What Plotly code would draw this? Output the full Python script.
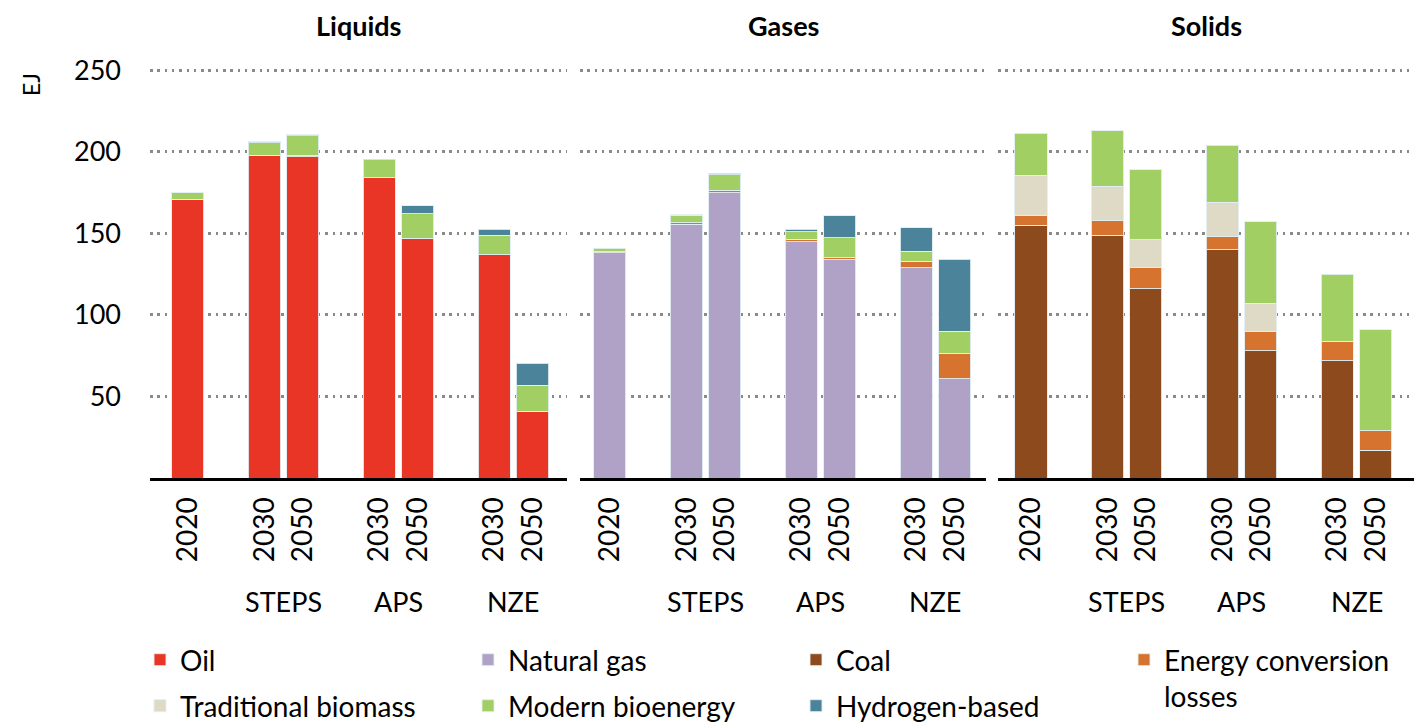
import plotly.graph_objects as go

# ---------------- data ----------------
panels = ["Liquids", "Gases", "Solids"]
years = ["2020", "2030", "2050", "2030", "2050", "2030", "2050"]
positions = [0, 2, 3, 5, 6, 8, 9]
scenarios = ["STEPS", "APS", "NZE"]
scenario_pos = [2.5, 5.5, 8.5]

# Liquids (EJ)
liq_oil = [171, 198, 197, 184, 147, 137, 41]
liq_losses = [0, 0, 1, 0, 0, 0, 0]
liq_trad = [0, 0, 0, 0, 0, 0, 0]
liq_bio = [4, 7.5, 12, 11, 15, 12, 16]
liq_h2 = [0, 0.6, 0.6, 0.4, 5, 3.5, 13.5]

# Gases (EJ)
gas_gas = [138, 155.5, 175, 145, 134, 129, 61]
gas_losses = [0.7, 1, 1.5, 1.3, 1.2, 4, 15.5]
gas_trad = [0, 0, 0, 0, 0, 0, 0]
gas_bio = [2.3, 4.5, 9.5, 4.7, 12, 6, 13.5]
gas_h2 = [0, 0.4, 1, 1.5, 13.5, 14.5, 44]

# Solids (EJ)
sol_coal = [155, 149, 116, 140, 78, 72, 17]
sol_losses = [6, 9, 13, 8, 12, 12, 12]
sol_trad = [24.5, 21, 17, 21, 17, 0, 0]
sol_bio = [26, 34, 43, 35, 50, 41, 62]
sol_h2 = [0, 0, 0, 0, 0, 0, 0]

series_names = ["Oil", "Natural gas", "Coal", "Energy conversion<br>losses",
                "Traditional biomass", "Modern bioenergy", "Hydrogen-based"]
colors = {
    "Oil": "#E83526",
    "Natural gas": "#B0A2C7",
    "Coal": "#8C4A1D",
    "Energy conversion<br>losses": "#D6732F",
    "Traditional biomass": "#DEDAC6",
    "Modern bioenergy": "#A2CF63",
    "Hydrogen-based": "#4B839A",
}
legend_of = {
    "Oil": "legend", "Natural gas": "legend", "Coal": "legend",
    "Energy conversion<br>losses": "legend",
    "Traditional biomass": "legend2", "Modern bioenergy": "legend2",
    "Hydrogen-based": "legend2",
}

panel_data = [
    [("Oil", liq_oil), ("Energy conversion<br>losses", liq_losses),
     ("Traditional biomass", liq_trad), ("Modern bioenergy", liq_bio),
     ("Hydrogen-based", liq_h2)],
    [("Natural gas", gas_gas), ("Energy conversion<br>losses", gas_losses),
     ("Traditional biomass", gas_trad), ("Modern bioenergy", gas_bio),
     ("Hydrogen-based", gas_h2)],
    [("Coal", sol_coal), ("Energy conversion<br>losses", sol_losses),
     ("Traditional biomass", sol_trad), ("Modern bioenergy", sol_bio),
     ("Hydrogen-based", sol_h2)],
]

# ---------------- figure ----------------
FONT = "Lato"
W, H = 1427, 724
OFF = 8                      # page body margin of the browser
LEFT, RIGHT, BASE = 150, 1414, 478   # target plot-area edges on screen
plot_w = RIGHT - LEFT
ph = 418
ml = LEFT - OFF
mr = W - (RIGHT - OFF)
mb = H - (BASE - OFF)
mt = H - mb - ph
domains = [
    [0.0, (567 - LEFT) / plot_w],
    [(580 - LEFT) / plot_w, (986 - LEFT) / plot_w],
    [(998 - LEFT) / plot_w, 1.0],
]
xranges = [[-0.99, 9.9], [-0.78, 9.82], [-0.86, 10.0]]
yrange = [0, 256.3]


def py(screen_y):
    return (BASE - screen_y) / ph


def px(screen_x):
    return (screen_x - LEFT) / plot_w


fig = go.Figure()
shown = set()
for i, pdata in enumerate(panel_data):
    xa = "x" if i == 0 else f"x{i+1}"
    ya = "y" if i == 0 else f"y{i+1}"
    for name, vals in pdata:
        yvals = [v if v else None for v in vals]
        if all(v is None for v in yvals):
            continue
        show = name not in shown
        shown.add(name)
        fig.add_trace(go.Bar(
            x=positions, y=yvals, name=name, xaxis=xa, yaxis=ya,
            marker=dict(color=colors[name],
                        line=dict(color="rgba(225,238,244,0.9)", width=1)),
            width=0.84, legendgroup=name, showlegend=show,
            legend=legend_of[name],
            legendrank=series_names.index(name) + 1,
            hovertemplate=f"{name.replace('<br>', ' ')}: %{{y}} EJ<extra></extra>",
        ))

layout = dict(
    width=W, height=H,
    margin=dict(l=ml, r=mr, t=mt, b=mb, autoexpand=False),
    barmode="stack",
    plot_bgcolor="white", paper_bgcolor="white",
    font=dict(family=FONT, size=27, color="black"),
    showlegend=True,
)
for i in range(3):
    xk = "xaxis" if i == 0 else f"xaxis{i+1}"
    yk = "yaxis" if i == 0 else f"yaxis{i+1}"
    layout[xk] = dict(
        domain=domains[i], range=xranges[i], anchor="y" if i == 0 else f"y{i+1}",
        tickvals=positions, ticktext=years, tickangle=-90,
        showline=True, linecolor="black", linewidth=3,
        showgrid=False, zeroline=False, ticks="", ticklabelstandoff=5,
        tickfont=dict(size=28, family=FONT, color="black"),
        fixedrange=True,
    )
    layout[yk] = dict(
        domain=[0, 1], range=yrange, anchor="x" if i == 0 else f"x{i+1}",
        tickvals=[50, 100, 150, 200, 250],
        showticklabels=(i == 0), ticklabelstandoff=28,
        showgrid=True, gridcolor="#8a8a8a", gridwidth=2.5, griddash="2.5px,4.8px",
        zeroline=False, showline=False, ticks="",
        tickfont=dict(size=27, family=FONT, color="black"),
        fixedrange=True,
    )

annotations = []
for i, title in enumerate(panels):
    xd = "x domain" if i == 0 else f"x{i+1} domain"
    annotations.append(dict(
        text=f"<b>{title}</b>", xref=xd, x=0.5, yref="paper",
        y=py(26), yanchor="middle", xanchor="center",
        showarrow=False, font=dict(size=27, family=FONT, color="black"),
    ))
    xr = "x" if i == 0 else f"x{i+1}"
    for s, sp in zip(scenarios, scenario_pos):
        annotations.append(dict(
            text=s, xref=xr, x=sp, yref="paper", y=py(601),
            yanchor="middle", xanchor="center", showarrow=False,
            font=dict(size=27, family=FONT, color="black"),
        ))
annotations.append(dict(
    text="EJ", xref="paper", x=px(31), yref="paper",
    y=py(85), textangle=-90, showarrow=False,
    xanchor="center", yanchor="middle",
    font=dict(size=23, family=FONT, color="black"),
))
layout["annotations"] = annotations

legend_common = dict(
    orientation="h", xref="paper", yref="paper",
    xanchor="left", yanchor="top",
    bgcolor="rgba(0,0,0,0)", entrywidth=283, entrywidthmode="pixels",
    font=dict(size=28, family=FONT, color="black"), valign="top",
    traceorder="normal", itemclick=False, itemdoubleclick=False,
)
layout["legend"] = dict(legend_common, x=px(140), y=py(635))
layout["legend2"] = dict(legend_common, x=px(140), y=py(681))

fig.update_layout(**layout)
fig.write_html("out.html")
